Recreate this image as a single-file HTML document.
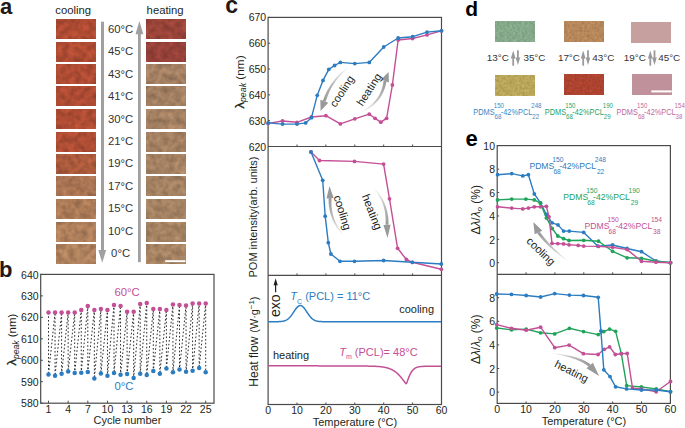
<!DOCTYPE html>
<html><head><meta charset="utf-8"><style>
html,body{margin:0;padding:0;background:#fff;width:685px;height:428px;overflow:hidden}
svg{display:block}
text{font-family:"Liberation Sans",sans-serif}
</style></head><body>
<svg width="685" height="428" viewBox="0 0 685 428">
<defs><filter id="tex" x="0" y="0" width="1" height="1" color-interpolation-filters="sRGB"><feTurbulence type="fractalNoise" baseFrequency="0.16" numOctaves="2" seed="7" result="n"/><feColorMatrix in="n" type="matrix" values="1 0 0 0 0  1 0 0 0 0  1 0 0 0 0  0 0 0 0 1" result="g"/><feComposite in="SourceGraphic" in2="g" operator="arithmetic" k1="0.45" k2="0.78" k3="0" k4="0"/></filter><linearGradient id="ga1" gradientUnits="userSpaceOnUse" x1="349.3" y1="67" x2="324.3" y2="101.3"><stop offset="0" stop-color="#fafafa"/><stop offset="0.55" stop-color="#bbb"/><stop offset="1" stop-color="#999"/></linearGradient><linearGradient id="ga2" gradientUnits="userSpaceOnUse" x1="359.8" y1="112.5" x2="385" y2="81"><stop offset="0" stop-color="#fafafa"/><stop offset="0.55" stop-color="#bbb"/><stop offset="1" stop-color="#999"/></linearGradient><linearGradient id="ga3" gradientUnits="userSpaceOnUse" x1="344.5" y1="236" x2="330.1" y2="198.2"><stop offset="0" stop-color="#fafafa"/><stop offset="0.55" stop-color="#bbb"/><stop offset="1" stop-color="#999"/></linearGradient><linearGradient id="ga4" gradientUnits="userSpaceOnUse" x1="373.2" y1="187.7" x2="387" y2="224.8"><stop offset="0" stop-color="#fafafa"/><stop offset="0.55" stop-color="#bbb"/><stop offset="1" stop-color="#999"/></linearGradient><filter id="tex2" x="0" y="0" width="1" height="1" color-interpolation-filters="sRGB"><feTurbulence type="fractalNoise" baseFrequency="0.4" numOctaves="2" seed="3" result="n"/><feColorMatrix in="n" type="matrix" values="1 0 0 0 0  1 0 0 0 0  1 0 0 0 0  0 0 0 0 1" result="g"/><feComposite in="SourceGraphic" in2="g" operator="arithmetic" k1="0.3" k2="0.85" k3="0" k4="0"/></filter><linearGradient id="ga5" gradientUnits="userSpaceOnUse" x1="568.4" y1="261.2" x2="538.5" y2="232.5"><stop offset="0" stop-color="#fafafa"/><stop offset="0.55" stop-color="#bbb"/><stop offset="1" stop-color="#999"/></linearGradient><linearGradient id="ga6" gradientUnits="userSpaceOnUse" x1="551.3" y1="353.4" x2="589.7" y2="365.5"><stop offset="0" stop-color="#fafafa"/><stop offset="0.55" stop-color="#bbb"/><stop offset="1" stop-color="#999"/></linearGradient></defs>
<text x="-0.1" y="13.8" font-size="22" text-anchor="start" fill="#231815" font-weight="bold">a</text>
<text x="55.3" y="14" font-size="11.3" text-anchor="start" fill="#231f20" >cooling</text>
<text x="146.6" y="14" font-size="11.3" text-anchor="start" fill="#231f20" >heating</text>
<rect x="56" y="19" width="40" height="20" fill="#ad4a32" filter="url(#tex)"/>
<rect x="146" y="19" width="40" height="20" fill="#984338" filter="url(#tex)"/>
<rect x="56" y="42" width="40" height="20" fill="#ad4b32" filter="url(#tex)"/>
<rect x="146" y="42" width="40" height="20" fill="#944039" filter="url(#tex)"/>
<rect x="56" y="64" width="40" height="20" fill="#ad4b33" filter="url(#tex)"/>
<rect x="146" y="64" width="40" height="20" fill="#a17e61" filter="url(#tex)"/>
<rect x="56" y="86" width="40" height="20" fill="#ad4b33" filter="url(#tex)"/>
<rect x="146" y="86" width="40" height="20" fill="#a17e61" filter="url(#tex)"/>
<rect x="56" y="109" width="40" height="20" fill="#ad4c33" filter="url(#tex)"/>
<rect x="146" y="109" width="40" height="20" fill="#a27f61" filter="url(#tex)"/>
<rect x="56" y="132" width="40" height="20" fill="#ad4d34" filter="url(#tex)"/>
<rect x="146" y="132" width="40" height="20" fill="#a27f61" filter="url(#tex)"/>
<rect x="56" y="154" width="40" height="20" fill="#ab5a3c" filter="url(#tex)"/>
<rect x="146" y="154" width="40" height="20" fill="#a38061" filter="url(#tex)"/>
<rect x="56" y="176" width="40" height="20" fill="#a87352" filter="url(#tex)"/>
<rect x="146" y="176" width="40" height="20" fill="#a38162" filter="url(#tex)"/>
<rect x="56" y="199" width="40" height="20" fill="#aa7956" filter="url(#tex)"/>
<rect x="146" y="199" width="40" height="20" fill="#a38162" filter="url(#tex)"/>
<rect x="56" y="222" width="40" height="20" fill="#ac7d5a" filter="url(#tex)"/>
<rect x="146" y="222" width="40" height="20" fill="#a48262" filter="url(#tex)"/>
<rect x="56" y="244" width="40" height="20" fill="#ae815d" filter="url(#tex)"/>
<rect x="146" y="244" width="40" height="20" fill="#a58262" filter="url(#tex)"/>
<text x="120.6" y="33" font-size="11.3" text-anchor="middle" fill="#333" >60°C</text>
<text x="120.6" y="55.4" font-size="11.3" text-anchor="middle" fill="#333" >45°C</text>
<text x="120.6" y="77.8" font-size="11.3" text-anchor="middle" fill="#333" >43°C</text>
<text x="120.6" y="100.2" font-size="11.3" text-anchor="middle" fill="#333" >41°C</text>
<text x="120.6" y="122.6" font-size="11.3" text-anchor="middle" fill="#333" >30°C</text>
<text x="120.6" y="145" font-size="11.3" text-anchor="middle" fill="#333" >21°C</text>
<text x="120.6" y="167.4" font-size="11.3" text-anchor="middle" fill="#333" >19°C</text>
<text x="120.6" y="189.8" font-size="11.3" text-anchor="middle" fill="#333" >17°C</text>
<text x="120.6" y="212.2" font-size="11.3" text-anchor="middle" fill="#333" >15°C</text>
<text x="120.6" y="234.6" font-size="11.3" text-anchor="middle" fill="#333" >10°C</text>
<text x="120.6" y="257" font-size="11.3" text-anchor="middle" fill="#333" >0°C</text>
<rect x="101" y="21.7" width="3" height="229" fill="#a0a0a0"/>
<polygon points="98.3,250 106.2,250 102.2,262.8" fill="#a0a0a0"/>
<rect x="138" y="33" width="2.8" height="229.2" fill="#a0a0a0"/>
<polygon points="135.5,34.3 143.3,34.3 139.4,21" fill="#a0a0a0"/>
<rect x="165.2" y="260.2" width="20.2" height="1.9" fill="#fff"/>
<text x="-1" y="277.4" font-size="22" text-anchor="start" fill="#231815" font-weight="bold">b</text>
<rect x="40.7" y="274.4" width="173.3" height="128.8" fill="none" stroke="#4a4a4a" stroke-width="1.2"/>
<line x1="40.7" y1="403.2" x2="42.900000000000006" y2="403.2" stroke="#4a4a4a" stroke-width="1"/>
<text x="38.6" y="407.3" font-size="10.5" text-anchor="end" fill="#231f20" >580</text>
<line x1="40.7" y1="381.73" x2="42.900000000000006" y2="381.73" stroke="#4a4a4a" stroke-width="1"/>
<text x="38.6" y="385.83" font-size="10.5" text-anchor="end" fill="#231f20" >590</text>
<line x1="40.7" y1="360.27" x2="42.900000000000006" y2="360.27" stroke="#4a4a4a" stroke-width="1"/>
<text x="38.6" y="364.37" font-size="10.5" text-anchor="end" fill="#231f20" >600</text>
<line x1="40.7" y1="338.8" x2="42.900000000000006" y2="338.8" stroke="#4a4a4a" stroke-width="1"/>
<text x="38.6" y="342.9" font-size="10.5" text-anchor="end" fill="#231f20" >610</text>
<line x1="40.7" y1="317.33" x2="42.900000000000006" y2="317.33" stroke="#4a4a4a" stroke-width="1"/>
<text x="38.6" y="321.43" font-size="10.5" text-anchor="end" fill="#231f20" >620</text>
<line x1="40.7" y1="295.87" x2="42.900000000000006" y2="295.87" stroke="#4a4a4a" stroke-width="1"/>
<text x="38.6" y="299.97" font-size="10.5" text-anchor="end" fill="#231f20" >630</text>
<line x1="40.7" y1="274.4" x2="42.900000000000006" y2="274.4" stroke="#4a4a4a" stroke-width="1"/>
<text x="38.6" y="278.5" font-size="10.5" text-anchor="end" fill="#231f20" >640</text>
<line x1="48.5" y1="403.2" x2="48.5" y2="400.7" stroke="#4a4a4a" stroke-width="1"/>
<text x="48.5" y="412.6" font-size="10.5" text-anchor="middle" fill="#231f20" >1</text>
<line x1="68.15" y1="403.2" x2="68.15" y2="400.7" stroke="#4a4a4a" stroke-width="1"/>
<text x="68.15" y="412.6" font-size="10.5" text-anchor="middle" fill="#231f20" >4</text>
<line x1="87.8" y1="403.2" x2="87.8" y2="400.7" stroke="#4a4a4a" stroke-width="1"/>
<text x="87.8" y="412.6" font-size="10.5" text-anchor="middle" fill="#231f20" >7</text>
<line x1="107.45" y1="403.2" x2="107.45" y2="400.7" stroke="#4a4a4a" stroke-width="1"/>
<text x="107.45" y="412.6" font-size="10.5" text-anchor="middle" fill="#231f20" >10</text>
<line x1="127.1" y1="403.2" x2="127.1" y2="400.7" stroke="#4a4a4a" stroke-width="1"/>
<text x="127.1" y="412.6" font-size="10.5" text-anchor="middle" fill="#231f20" >13</text>
<line x1="146.75" y1="403.2" x2="146.75" y2="400.7" stroke="#4a4a4a" stroke-width="1"/>
<text x="146.75" y="412.6" font-size="10.5" text-anchor="middle" fill="#231f20" >16</text>
<line x1="166.4" y1="403.2" x2="166.4" y2="400.7" stroke="#4a4a4a" stroke-width="1"/>
<text x="166.4" y="412.6" font-size="10.5" text-anchor="middle" fill="#231f20" >19</text>
<line x1="186.05" y1="403.2" x2="186.05" y2="400.7" stroke="#4a4a4a" stroke-width="1"/>
<text x="186.05" y="412.6" font-size="10.5" text-anchor="middle" fill="#231f20" >22</text>
<line x1="205.7" y1="403.2" x2="205.7" y2="400.7" stroke="#4a4a4a" stroke-width="1"/>
<text x="205.7" y="412.6" font-size="10.5" text-anchor="middle" fill="#231f20" >25</text>
<text x="127.4" y="423.8" font-size="11" text-anchor="middle" fill="#231f20" >Cycle number</text>
<text transform="translate(12.4,339.6) rotate(-90)" font-size="11.5" text-anchor="middle" dy="0.35em" fill="#231f20" ><tspan font-size="13" stroke="#231f20" stroke-width="0.3">λ</tspan><tspan font-size="8.6" font-style="italic" dy="2.2">peak</tspan><tspan dy="-2.2"> (nm)</tspan></text>
<polyline points="48.5,312.6 48.5,374.6 55.05,312.6 55.05,375.7 61.6,312.6 61.6,373.8 68.15,312.6 68.15,371.5 74.7,312.6 74.7,373 81.25,310.1 81.25,372.7 87.8,305.9 87.8,371.9 94.35,309.9 94.35,378.4 100.9,309 100.9,373.6 107.45,309.9 107.45,375.7 114,305 114,373 120.55,306 120.55,374.8 127.1,311.8 127.1,373.9 133.65,311.8 133.65,378 140.2,304 140.2,373.8 146.75,303 146.75,374.9 153.3,309.1 153.3,371.1 159.85,309.1 159.85,373.8 166.4,310.1 166.4,368.6 172.95,304.5 172.95,372.3 179.5,305.1 179.5,369.6 186.05,305.5 186.05,371.7 192.6,303.4 192.6,370.7 199.15,303.4 199.15,367.9 205.7,303.4 205.7,372.3" fill="none" stroke="#2a2a2a" stroke-width="1.0" stroke-linejoin="round" stroke-dasharray="1.6,2.1"/>
<circle cx="48.5" cy="312.6" r="2.25" fill="#c34f96"/>
<circle cx="55.05" cy="312.6" r="2.25" fill="#c34f96"/>
<circle cx="61.6" cy="312.6" r="2.25" fill="#c34f96"/>
<circle cx="68.15" cy="312.6" r="2.25" fill="#c34f96"/>
<circle cx="74.7" cy="312.6" r="2.25" fill="#c34f96"/>
<circle cx="81.25" cy="310.1" r="2.25" fill="#c34f96"/>
<circle cx="87.8" cy="305.9" r="2.25" fill="#c34f96"/>
<circle cx="94.35" cy="309.9" r="2.25" fill="#c34f96"/>
<circle cx="100.9" cy="309" r="2.25" fill="#c34f96"/>
<circle cx="107.45" cy="309.9" r="2.25" fill="#c34f96"/>
<circle cx="114" cy="305" r="2.25" fill="#c34f96"/>
<circle cx="120.55" cy="306" r="2.25" fill="#c34f96"/>
<circle cx="127.1" cy="311.8" r="2.25" fill="#c34f96"/>
<circle cx="133.65" cy="311.8" r="2.25" fill="#c34f96"/>
<circle cx="140.2" cy="304" r="2.25" fill="#c34f96"/>
<circle cx="146.75" cy="303" r="2.25" fill="#c34f96"/>
<circle cx="153.3" cy="309.1" r="2.25" fill="#c34f96"/>
<circle cx="159.85" cy="309.1" r="2.25" fill="#c34f96"/>
<circle cx="166.4" cy="310.1" r="2.25" fill="#c34f96"/>
<circle cx="172.95" cy="304.5" r="2.25" fill="#c34f96"/>
<circle cx="179.5" cy="305.1" r="2.25" fill="#c34f96"/>
<circle cx="186.05" cy="305.5" r="2.25" fill="#c34f96"/>
<circle cx="192.6" cy="303.4" r="2.25" fill="#c34f96"/>
<circle cx="199.15" cy="303.4" r="2.25" fill="#c34f96"/>
<circle cx="205.7" cy="303.4" r="2.25" fill="#c34f96"/>
<circle cx="48.5" cy="374.6" r="2.25" fill="#2b7cc0"/>
<circle cx="55.05" cy="375.7" r="2.25" fill="#2b7cc0"/>
<circle cx="61.6" cy="373.8" r="2.25" fill="#2b7cc0"/>
<circle cx="68.15" cy="371.5" r="2.25" fill="#2b7cc0"/>
<circle cx="74.7" cy="373" r="2.25" fill="#2b7cc0"/>
<circle cx="81.25" cy="372.7" r="2.25" fill="#2b7cc0"/>
<circle cx="87.8" cy="371.9" r="2.25" fill="#2b7cc0"/>
<circle cx="94.35" cy="378.4" r="2.25" fill="#2b7cc0"/>
<circle cx="100.9" cy="373.6" r="2.25" fill="#2b7cc0"/>
<circle cx="107.45" cy="375.7" r="2.25" fill="#2b7cc0"/>
<circle cx="114" cy="373" r="2.25" fill="#2b7cc0"/>
<circle cx="120.55" cy="374.8" r="2.25" fill="#2b7cc0"/>
<circle cx="127.1" cy="373.9" r="2.25" fill="#2b7cc0"/>
<circle cx="133.65" cy="378" r="2.25" fill="#2b7cc0"/>
<circle cx="140.2" cy="373.8" r="2.25" fill="#2b7cc0"/>
<circle cx="146.75" cy="374.9" r="2.25" fill="#2b7cc0"/>
<circle cx="153.3" cy="371.1" r="2.25" fill="#2b7cc0"/>
<circle cx="159.85" cy="373.8" r="2.25" fill="#2b7cc0"/>
<circle cx="166.4" cy="368.6" r="2.25" fill="#2b7cc0"/>
<circle cx="172.95" cy="372.3" r="2.25" fill="#2b7cc0"/>
<circle cx="179.5" cy="369.6" r="2.25" fill="#2b7cc0"/>
<circle cx="186.05" cy="371.7" r="2.25" fill="#2b7cc0"/>
<circle cx="192.6" cy="370.7" r="2.25" fill="#2b7cc0"/>
<circle cx="199.15" cy="367.9" r="2.25" fill="#2b7cc0"/>
<circle cx="205.7" cy="372.3" r="2.25" fill="#2b7cc0"/>
<text x="127" y="295.6" font-size="11.3" text-anchor="middle" fill="#c34f96" >60°C</text>
<text x="124" y="390.3" font-size="11.3" text-anchor="middle" fill="#2b7cc0" >0°C</text>
<text x="225.2" y="12.6" font-size="23" text-anchor="start" fill="#231815" font-weight="bold">c</text>
<rect x="268.1" y="17.4" width="173.39999999999998" height="387.1" fill="none" stroke="#4a4a4a" stroke-width="1.2"/>
<line x1="268.1" y1="146.5" x2="441.5" y2="146.5" stroke="#4a4a4a" stroke-width="1.2"/>
<line x1="268.1" y1="275.4" x2="441.5" y2="275.4" stroke="#4a4a4a" stroke-width="1.2"/>
<line x1="268.1" y1="146.5" x2="270.1" y2="146.5" stroke="#4a4a4a" stroke-width="1"/>
<text x="266.2" y="150.5" font-size="10.5" text-anchor="end" fill="#231f20" >620</text>
<line x1="268.1" y1="120.68" x2="270.1" y2="120.68" stroke="#4a4a4a" stroke-width="1"/>
<text x="266.2" y="124.68" font-size="10.5" text-anchor="end" fill="#231f20" >630</text>
<line x1="268.1" y1="94.86" x2="270.1" y2="94.86" stroke="#4a4a4a" stroke-width="1"/>
<text x="266.2" y="98.86" font-size="10.5" text-anchor="end" fill="#231f20" >640</text>
<line x1="268.1" y1="69.04" x2="270.1" y2="69.04" stroke="#4a4a4a" stroke-width="1"/>
<text x="266.2" y="73.04" font-size="10.5" text-anchor="end" fill="#231f20" >650</text>
<line x1="268.1" y1="43.22" x2="270.1" y2="43.22" stroke="#4a4a4a" stroke-width="1"/>
<text x="266.2" y="47.22" font-size="10.5" text-anchor="end" fill="#231f20" >660</text>
<line x1="268.1" y1="17.4" x2="270.1" y2="17.4" stroke="#4a4a4a" stroke-width="1"/>
<text x="266.2" y="21.4" font-size="10.5" text-anchor="end" fill="#231f20" >670</text>
<line x1="297" y1="146.5" x2="297" y2="144.5" stroke="#4a4a4a" stroke-width="1"/>
<line x1="297" y1="275.4" x2="297" y2="273.4" stroke="#4a4a4a" stroke-width="1"/>
<line x1="297" y1="404.5" x2="297" y2="402.5" stroke="#4a4a4a" stroke-width="1"/>
<line x1="325.9" y1="146.5" x2="325.9" y2="144.5" stroke="#4a4a4a" stroke-width="1"/>
<line x1="325.9" y1="275.4" x2="325.9" y2="273.4" stroke="#4a4a4a" stroke-width="1"/>
<line x1="325.9" y1="404.5" x2="325.9" y2="402.5" stroke="#4a4a4a" stroke-width="1"/>
<line x1="354.8" y1="146.5" x2="354.8" y2="144.5" stroke="#4a4a4a" stroke-width="1"/>
<line x1="354.8" y1="275.4" x2="354.8" y2="273.4" stroke="#4a4a4a" stroke-width="1"/>
<line x1="354.8" y1="404.5" x2="354.8" y2="402.5" stroke="#4a4a4a" stroke-width="1"/>
<line x1="383.7" y1="146.5" x2="383.7" y2="144.5" stroke="#4a4a4a" stroke-width="1"/>
<line x1="383.7" y1="275.4" x2="383.7" y2="273.4" stroke="#4a4a4a" stroke-width="1"/>
<line x1="383.7" y1="404.5" x2="383.7" y2="402.5" stroke="#4a4a4a" stroke-width="1"/>
<line x1="412.6" y1="146.5" x2="412.6" y2="144.5" stroke="#4a4a4a" stroke-width="1"/>
<line x1="412.6" y1="275.4" x2="412.6" y2="273.4" stroke="#4a4a4a" stroke-width="1"/>
<line x1="412.6" y1="404.5" x2="412.6" y2="402.5" stroke="#4a4a4a" stroke-width="1"/>
<text x="268.1" y="413.6" font-size="10.5" text-anchor="middle" fill="#231f20" >0</text>
<text x="297" y="413.6" font-size="10.5" text-anchor="middle" fill="#231f20" >10</text>
<text x="325.9" y="413.6" font-size="10.5" text-anchor="middle" fill="#231f20" >20</text>
<text x="354.8" y="413.6" font-size="10.5" text-anchor="middle" fill="#231f20" >30</text>
<text x="383.7" y="413.6" font-size="10.5" text-anchor="middle" fill="#231f20" >40</text>
<text x="412.6" y="413.6" font-size="10.5" text-anchor="middle" fill="#231f20" >50</text>
<text x="441.5" y="413.6" font-size="10.5" text-anchor="middle" fill="#231f20" >60</text>
<text x="355" y="425.6" font-size="11" text-anchor="middle" fill="#231f20" >Temperature (°C)</text>
<polyline points="268.1,123.4 282.55,121 297,122.3 311.45,117 325.9,115.7 340.35,123.9 354.8,118.8 369.25,114.2 375.03,118.3 380.81,122.2 386.59,118.3 392.37,85 398.15,40 412.6,38.5 427.05,34.9 441.5,30.8" fill="none" stroke="#c34f96" stroke-width="1.4" stroke-linejoin="round"/>
<circle cx="268.1" cy="123.4" r="1.9" fill="#c34f96"/>
<circle cx="282.55" cy="121" r="1.9" fill="#c34f96"/>
<circle cx="297" cy="122.3" r="1.9" fill="#c34f96"/>
<circle cx="311.45" cy="117" r="1.9" fill="#c34f96"/>
<circle cx="325.9" cy="115.7" r="1.9" fill="#c34f96"/>
<circle cx="340.35" cy="123.9" r="1.9" fill="#c34f96"/>
<circle cx="354.8" cy="118.8" r="1.9" fill="#c34f96"/>
<circle cx="369.25" cy="114.2" r="1.9" fill="#c34f96"/>
<circle cx="375.03" cy="118.3" r="1.9" fill="#c34f96"/>
<circle cx="380.81" cy="122.2" r="1.9" fill="#c34f96"/>
<circle cx="386.59" cy="118.3" r="1.9" fill="#c34f96"/>
<circle cx="392.37" cy="85" r="1.9" fill="#c34f96"/>
<circle cx="398.15" cy="40" r="1.9" fill="#c34f96"/>
<circle cx="412.6" cy="38.5" r="1.9" fill="#c34f96"/>
<circle cx="427.05" cy="34.9" r="1.9" fill="#c34f96"/>
<circle cx="441.5" cy="30.8" r="1.9" fill="#c34f96"/>
<polyline points="268.1,122.9 282.55,124.1 297,124.1 305.67,122.9 311.45,117.7 317.23,95.3 323.01,80.4 328.79,69.4 334.57,65.5 340.35,62.4 354.8,63.6 369.25,62.4 383.7,47 398.15,38 412.6,36.7 427.05,32.1 441.5,30.8" fill="none" stroke="#2b7cc0" stroke-width="1.4" stroke-linejoin="round"/>
<circle cx="268.1" cy="122.9" r="1.9" fill="#2b7cc0"/>
<circle cx="282.55" cy="124.1" r="1.9" fill="#2b7cc0"/>
<circle cx="297" cy="124.1" r="1.9" fill="#2b7cc0"/>
<circle cx="305.67" cy="122.9" r="1.9" fill="#2b7cc0"/>
<circle cx="311.45" cy="117.7" r="1.9" fill="#2b7cc0"/>
<circle cx="317.23" cy="95.3" r="1.9" fill="#2b7cc0"/>
<circle cx="323.01" cy="80.4" r="1.9" fill="#2b7cc0"/>
<circle cx="328.79" cy="69.4" r="1.9" fill="#2b7cc0"/>
<circle cx="334.57" cy="65.5" r="1.9" fill="#2b7cc0"/>
<circle cx="340.35" cy="62.4" r="1.9" fill="#2b7cc0"/>
<circle cx="354.8" cy="63.6" r="1.9" fill="#2b7cc0"/>
<circle cx="369.25" cy="62.4" r="1.9" fill="#2b7cc0"/>
<circle cx="383.7" cy="47" r="1.9" fill="#2b7cc0"/>
<circle cx="398.15" cy="38" r="1.9" fill="#2b7cc0"/>
<circle cx="412.6" cy="36.7" r="1.9" fill="#2b7cc0"/>
<circle cx="427.05" cy="32.1" r="1.9" fill="#2b7cc0"/>
<circle cx="441.5" cy="30.8" r="1.9" fill="#2b7cc0"/>
<text transform="translate(240,82) rotate(-90)" font-size="11.8" text-anchor="middle" dy="0.35em" fill="#231f20" ><tspan font-size="13" stroke="#231f20" stroke-width="0.3">λ</tspan><tspan font-size="8.8" font-style="italic" dy="2.2">peak</tspan><tspan dy="-2.2"> (nm)</tspan></text>
<polyline points="311,152 319.5,160.5 354.5,161.4 383.6,164.1 389.5,198.8 397.6,248.3 406.4,259.5 412.3,262.3 441.3,269.3" fill="none" stroke="#c34f96" stroke-width="1.4" stroke-linejoin="round"/>
<circle cx="311" cy="152" r="1.9" fill="#c34f96"/>
<circle cx="319.5" cy="160.5" r="1.9" fill="#c34f96"/>
<circle cx="354.5" cy="161.4" r="1.9" fill="#c34f96"/>
<circle cx="383.6" cy="164.1" r="1.9" fill="#c34f96"/>
<circle cx="389.5" cy="198.8" r="1.9" fill="#c34f96"/>
<circle cx="397.6" cy="248.3" r="1.9" fill="#c34f96"/>
<circle cx="406.4" cy="259.5" r="1.9" fill="#c34f96"/>
<circle cx="412.3" cy="262.3" r="1.9" fill="#c34f96"/>
<circle cx="441.3" cy="269.3" r="1.9" fill="#c34f96"/>
<polyline points="311,152 322.7,180.3 325.2,216.2 328.3,242.7 330.9,254 340,261.3 354.5,261.3 383.6,260.5 412.3,262.3 441.3,264" fill="none" stroke="#2b7cc0" stroke-width="1.4" stroke-linejoin="round"/>
<circle cx="311" cy="152" r="1.9" fill="#2b7cc0"/>
<circle cx="322.7" cy="180.3" r="1.9" fill="#2b7cc0"/>
<circle cx="325.2" cy="216.2" r="1.9" fill="#2b7cc0"/>
<circle cx="328.3" cy="242.7" r="1.9" fill="#2b7cc0"/>
<circle cx="330.9" cy="254" r="1.9" fill="#2b7cc0"/>
<circle cx="340" cy="261.3" r="1.9" fill="#2b7cc0"/>
<circle cx="354.5" cy="261.3" r="1.9" fill="#2b7cc0"/>
<circle cx="383.6" cy="260.5" r="1.9" fill="#2b7cc0"/>
<circle cx="412.3" cy="262.3" r="1.9" fill="#2b7cc0"/>
<circle cx="441.3" cy="264" r="1.9" fill="#2b7cc0"/>
<text transform="translate(253.6,217) rotate(-90)" font-size="11" text-anchor="middle" dy="0.35em" fill="#231f20" >POM intensity(arb. units)</text>
<polyline points="268.1,321.7 268.6,321.7 269.1,321.7 269.6,321.7 270.1,321.7 270.6,321.7 271.1,321.7 271.6,321.7 272.1,321.7 272.6,321.7 273.1,321.7 273.6,321.7 274.1,321.7 274.6,321.69 275.1,321.69 275.6,321.69 276.1,321.68 276.6,321.68 277.1,321.67 277.6,321.66 278.1,321.65 278.6,321.64 279.1,321.62 279.6,321.6 280.1,321.57 280.6,321.54 281.1,321.49 281.6,321.44 282.1,321.38 282.6,321.3 283.1,321.21 283.6,321.1 284.1,320.97 284.6,320.82 285.1,320.65 285.6,320.44 286.1,320.21 286.6,319.94 287.1,319.64 287.6,319.3 288.1,318.92 288.6,318.49 289.1,318.03 289.6,317.52 290.1,316.97 290.6,316.38 291.1,315.75 291.6,315.09 292.1,314.39 292.6,313.67 293.1,312.93 293.6,312.18 294.1,311.42 294.6,310.67 295.1,309.94 295.6,309.23 296.1,308.55 296.6,307.92 297.1,307.35 297.6,306.84 298.1,306.4 298.6,306.04 299.1,305.77 299.6,305.59 300.1,305.51 300.6,305.52 301.1,305.62 301.6,305.82 302.1,306.11 302.6,306.48 303.1,306.94 303.6,307.46 304.1,308.04 304.6,308.68 305.1,309.37 305.6,310.08 306.1,310.82 306.6,311.57 307.1,312.33 307.6,313.08 308.1,313.81 308.6,314.53 309.1,315.22 309.6,315.88 310.1,316.5 310.6,317.08 311.1,317.63 311.6,318.13 312.1,318.58 312.6,319 313.1,319.37 313.6,319.7 314.1,320 314.6,320.26 315.1,320.49 315.6,320.69 316.1,320.86 316.6,321 317.1,321.13 317.6,321.23 318.1,321.32 318.6,321.39 319.1,321.45 319.6,321.5 320.1,321.54 320.6,321.58 321.1,321.6 321.6,321.62 322.1,321.64 322.6,321.65 323.1,321.67 323.6,321.67 324.1,321.68 324.6,321.69 325.1,321.69 325.6,321.69 326.1,321.69 326.6,321.7 327.1,321.7 327.6,321.7 328.1,321.7 328.6,321.7 329.1,321.7 329.6,321.7 330.1,321.7 330.6,321.7 331.1,321.7 331.6,321.7 332.1,321.7 332.6,321.7 333.1,321.7 333.6,321.7 334.1,321.7 334.6,321.7 335.1,321.7 335.6,321.7 336.1,321.7 336.6,321.7 337.1,321.7 337.6,321.7 338.1,321.7 338.6,321.7 339.1,321.7 339.6,321.7 340.1,321.7 340.6,321.7 341.1,321.7 341.6,321.7 342.1,321.7 342.6,321.7 343.1,321.7 343.6,321.7 344.1,321.7 344.6,321.7 345.1,321.7 345.6,321.7 346.1,321.7 346.6,321.7 347.1,321.7 347.6,321.7 348.1,321.7 348.6,321.7 349.1,321.7 349.6,321.7 350.1,321.7 350.6,321.7 351.1,321.7 351.6,321.7 352.1,321.7 352.6,321.7 353.1,321.7 353.6,321.7 354.1,321.7 354.6,321.7 355.1,321.7 355.6,321.7 356.1,321.7 356.6,321.7 357.1,321.7 357.6,321.7 358.1,321.7 358.6,321.7 359.1,321.7 359.6,321.7 360.1,321.7 360.6,321.7 361.1,321.7 361.6,321.7 362.1,321.7 362.6,321.7 363.1,321.7 363.6,321.7 364.1,321.7 364.6,321.7 365.1,321.7 365.6,321.7 366.1,321.7 366.6,321.7 367.1,321.7 367.6,321.7 368.1,321.7 368.6,321.7 369.1,321.7 369.6,321.7 370.1,321.7 370.6,321.7 371.1,321.7 371.6,321.7 372.1,321.7 372.6,321.7 373.1,321.7 373.6,321.7 374.1,321.7 374.6,321.7 375.1,321.7 375.6,321.7 376.1,321.7 376.6,321.7 377.1,321.7 377.6,321.7 378.1,321.7 378.6,321.7 379.1,321.7 379.6,321.7 380.1,321.7 380.6,321.7 381.1,321.7 381.6,321.7 382.1,321.7 382.6,321.7 383.1,321.7 383.6,321.7 384.1,321.7 384.6,321.7 385.1,321.7 385.6,321.7 386.1,321.7 386.6,321.7 387.1,321.7 387.6,321.7 388.1,321.7 388.6,321.7 389.1,321.7 389.6,321.7 390.1,321.7 390.6,321.7 391.1,321.7 391.6,321.7 392.1,321.7 392.6,321.7 393.1,321.7 393.6,321.7 394.1,321.7 394.6,321.7 395.1,321.7 395.6,321.7 396.1,321.7 396.6,321.7 397.1,321.7 397.6,321.7 398.1,321.7 398.6,321.7 399.1,321.7 399.6,321.7 400.1,321.7 400.6,321.7 401.1,321.7 401.6,321.7 402.1,321.7 402.6,321.7 403.1,321.7 403.6,321.7 404.1,321.7 404.6,321.7 405.1,321.7 405.6,321.7 406.1,321.7 406.6,321.7 407.1,321.7 407.6,321.7 408.1,321.7 408.6,321.7 409.1,321.7 409.6,321.7 410.1,321.7 410.6,321.7 411.1,321.7 411.6,321.7 412.1,321.7 412.6,321.7 413.1,321.7 413.6,321.7 414.1,321.7 414.6,321.7 415.1,321.7 415.6,321.7 416.1,321.7 416.6,321.7 417.1,321.7 417.6,321.7 418.1,321.7 418.6,321.7 419.1,321.7 419.6,321.7 420.1,321.7 420.6,321.7 421.1,321.7 421.6,321.7 422.1,321.7 422.6,321.7 423.1,321.7 423.6,321.7 424.1,321.7 424.6,321.7 425.1,321.7 425.6,321.7 426.1,321.7 426.6,321.7 427.1,321.7 427.6,321.7 428.1,321.7 428.6,321.7 429.1,321.7 429.6,321.7 430.1,321.7 430.6,321.7 431.1,321.7 431.6,321.7 432.1,321.7 432.6,321.7 433.1,321.7 433.6,321.7 434.1,321.7 434.6,321.7 435.1,321.7 435.6,321.7 436.1,321.7 436.6,321.7 437.1,321.7 437.6,321.7 438.1,321.7 438.6,321.7 439.1,321.7 439.6,321.7 440.1,321.7 440.6,321.7 441.1,321.7" fill="none" stroke="#2b7cc0" stroke-width="1.5" stroke-linejoin="round"/>
<polyline points="268.1,365.7 268.6,365.7 269.1,365.7 269.6,365.71 270.1,365.71 270.6,365.71 271.1,365.71 271.6,365.71 272.1,365.71 272.6,365.72 273.1,365.72 273.6,365.72 274.1,365.72 274.6,365.72 275.1,365.72 275.6,365.73 276.1,365.73 276.6,365.73 277.1,365.73 277.6,365.73 278.1,365.74 278.6,365.74 279.1,365.74 279.6,365.74 280.1,365.74 280.6,365.74 281.1,365.75 281.6,365.75 282.1,365.75 282.6,365.75 283.1,365.75 283.6,365.75 284.1,365.76 284.6,365.76 285.1,365.76 285.6,365.76 286.1,365.76 286.6,365.76 287.1,365.77 287.6,365.77 288.1,365.77 288.6,365.77 289.1,365.77 289.6,365.77 290.1,365.78 290.6,365.78 291.1,365.78 291.6,365.78 292.1,365.78 292.6,365.79 293.1,365.79 293.6,365.79 294.1,365.79 294.6,365.79 295.1,365.79 295.6,365.8 296.1,365.8 296.6,365.8 297.1,365.8 297.6,365.8 298.1,365.8 298.6,365.81 299.1,365.81 299.6,365.81 300.1,365.81 300.6,365.81 301.1,365.81 301.6,365.82 302.1,365.82 302.6,365.82 303.1,365.82 303.6,365.82 304.1,365.83 304.6,365.83 305.1,365.83 305.6,365.83 306.1,365.83 306.6,365.83 307.1,365.84 307.6,365.84 308.1,365.84 308.6,365.84 309.1,365.84 309.6,365.84 310.1,365.85 310.6,365.85 311.1,365.85 311.6,365.85 312.1,365.85 312.6,365.85 313.1,365.86 313.6,365.86 314.1,365.86 314.6,365.86 315.1,365.86 315.6,365.87 316.1,365.87 316.6,365.87 317.1,365.87 317.6,365.87 318.1,365.87 318.6,365.88 319.1,365.88 319.6,365.88 320.1,365.88 320.6,365.88 321.1,365.88 321.6,365.89 322.1,365.89 322.6,365.89 323.1,365.89 323.6,365.89 324.1,365.89 324.6,365.9 325.1,365.9 325.6,365.9 326.1,365.9 326.6,365.9 327.1,365.9 327.6,365.91 328.1,365.91 328.6,365.91 329.1,365.91 329.6,365.91 330.1,365.92 330.6,365.92 331.1,365.92 331.6,365.92 332.1,365.92 332.6,365.92 333.1,365.93 333.6,365.93 334.1,365.93 334.6,365.93 335.1,365.93 335.6,365.93 336.1,365.94 336.6,365.94 337.1,365.94 337.6,365.94 338.1,365.94 338.6,365.95 339.1,365.95 339.6,365.95 340.1,365.95 340.6,365.95 341.1,365.95 341.6,365.96 342.1,365.96 342.6,365.96 343.1,365.96 343.6,365.96 344.1,365.96 344.6,365.97 345.1,365.97 345.6,365.97 346.1,365.97 346.6,365.97 347.1,365.98 347.6,365.98 348.1,365.98 348.6,365.98 349.1,365.98 349.6,365.99 350.1,365.99 350.6,365.99 351.1,365.99 351.6,365.99 352.1,366 352.6,366 353.1,366 353.6,366 354.1,366 354.6,366.01 355.1,366.01 355.6,366.01 356.1,366.01 356.6,366.02 357.1,366.02 357.6,366.02 358.1,366.02 358.6,366.03 359.1,366.03 359.6,366.03 360.1,366.04 360.6,366.04 361.1,366.04 361.6,366.05 362.1,366.05 362.6,366.05 363.1,366.06 363.6,366.06 364.1,366.07 364.6,366.07 365.1,366.08 365.6,366.08 366.1,366.09 366.6,366.1 367.1,366.1 367.6,366.11 368.1,366.12 368.6,366.13 369.1,366.14 369.6,366.15 370.1,366.16 370.6,366.17 371.1,366.18 371.6,366.2 372.1,366.21 372.6,366.23 373.1,366.24 373.6,366.26 374.1,366.28 374.6,366.3 375.1,366.32 375.6,366.35 376.1,366.37 376.6,366.4 377.1,366.43 377.6,366.46 378.1,366.5 378.6,366.54 379.1,366.58 379.6,366.62 380.1,366.67 380.6,366.72 381.1,366.78 381.6,366.84 382.1,366.9 382.6,366.97 383.1,367.04 383.6,367.12 384.1,367.21 384.6,367.3 385.1,367.4 385.6,367.51 386.1,367.62 386.6,367.74 387.1,367.87 387.6,368.01 388.1,368.16 388.6,368.32 389.1,368.49 389.6,368.67 390.1,368.86 390.6,369.07 391.1,369.29 391.6,369.52 392.1,369.77 392.6,370.04 393.1,370.32 393.6,370.61 394.1,370.93 394.6,371.26 395.1,371.61 395.6,371.98 396.1,372.38 396.6,372.79 397.1,373.22 397.6,373.67 398.1,374.15 398.6,374.65 399.1,375.17 399.6,375.71 400.1,376.27 400.6,376.85 401.1,377.45 401.6,378.07 402.1,378.7 402.6,379.34 403.1,380 403.6,380.66 404.1,381.32 404.6,381.96 405.1,382.59 405.6,383.16 406.1,383.65 406.6,383.21 407.1,381.93 407.6,380.55 408.1,379.17 408.6,377.84 409.1,376.59 409.6,375.43 410.1,374.36 410.6,373.38 411.1,372.5 411.6,371.71 412.1,371.01 412.6,370.38 413.1,369.83 413.6,369.34 414.1,368.91 414.6,368.53 415.1,368.21 415.6,367.92 416.1,367.68 416.6,367.46 417.1,367.28 417.6,367.12 418.1,366.99 418.6,366.87 419.1,366.78 419.6,366.69 420.1,366.62 420.6,366.56 421.1,366.51 421.6,366.47 422.1,366.43 422.6,366.4 423.1,366.38 423.6,366.35 424.1,366.34 424.6,366.32 425.1,366.31 425.6,366.3 426.1,366.29 426.6,366.29 427.1,366.28 427.6,366.28 428.1,366.28 428.6,366.27 429.1,366.27 429.6,366.27 430.1,366.27 430.6,366.27 431.1,366.27 431.6,366.27 432.1,366.27 432.6,366.27 433.1,366.28 433.6,366.28 434.1,366.28 434.6,366.28 435.1,366.28 435.6,366.28 436.1,366.28 436.6,366.29 437.1,366.29 437.6,366.29 438.1,366.29 438.6,366.29 439.1,366.29 439.6,366.3 440.1,366.3 440.6,366.3 441.1,366.3" fill="none" stroke="#c34f96" stroke-width="1.5" stroke-linejoin="round"/>
<text transform="translate(254.2,341.6) rotate(-90)" font-size="12" text-anchor="middle" dy="0.35em" fill="#231f20" >Heat flow<tspan font-size="10.8" dx="4">(W·g</tspan><tspan font-size="8" dy="-4.2">−1</tspan><tspan font-size="10.8" dy="4.2">)</tspan></text>
<text transform="translate(274.8,305.8) rotate(-90)" font-size="14" text-anchor="middle" dy="0.35em" fill="#231f20" >exo</text>
<line x1="275.6" y1="292.3" x2="275.6" y2="284" stroke="#231f20" stroke-width="1.2"/>
<polygon points="273.6,285.2 277.8,285.2 275.6,278.2" fill="#231f20"/>
<text x="290.3" y="300" font-size="11" fill="#2b7cc0"><tspan font-style="italic">T</tspan><tspan font-size="7" dy="3.6">C</tspan><tspan dy="-3.6"> (PCL) = 11°C</tspan></text>
<text x="399.2" y="313.4" font-size="11" text-anchor="start" fill="#231f20" >cooling</text>
<text x="273" y="358.6" font-size="11" text-anchor="start" fill="#231f20" >heating</text>
<text x="339.2" y="356" font-size="11" fill="#c34f96"><tspan font-style="italic">T</tspan><tspan font-size="7" dy="2.7">m</tspan><tspan dy="-2.7"> (PCL)= 48°C</tspan></text>
<polygon points="349.24,66.92 347.96,67.69 346.72,68.52 345.52,69.39 344.34,70.28 343.19,71.19 342.07,72.12 340.97,73.08 339.9,74.06 338.86,75.06 337.84,76.08 336.84,77.13 335.87,78.19 334.93,79.28 334.01,80.38 333.12,81.51 332.26,82.66 331.42,83.82 330.6,85.01 329.82,86.22 329.05,87.45 328.32,88.7 327.61,89.97 326.92,91.26 326.26,92.57 325.63,93.9 325.03,95.25 324.45,96.62 323.9,98.01 323.37,99.42 322.87,100.85 325.73,101.75 326.15,100.36 326.59,98.98 327.06,97.63 327.56,96.28 328.08,94.96 328.62,93.65 329.19,92.36 329.79,91.09 330.41,89.83 331.06,88.59 331.73,87.37 332.43,86.16 333.15,84.97 333.9,83.8 334.68,82.64 335.48,81.5 336.31,80.37 337.16,79.27 338.04,78.17 338.94,77.09 339.87,76.03 340.83,74.99 341.81,73.96 342.82,72.94 343.85,71.94 344.91,70.95 345.99,69.98 347.1,69.02 348.23,68.06 349.36,67.08" fill="url(#ga1)"/>
<polygon points="320.32,99.8 328.28,102.8 320.6,111.1" fill="#999"/>
<polygon points="359.84,112.59 361.35,112.06 362.81,111.46 364.23,110.81 365.6,110.13 366.93,109.41 368.21,108.66 369.46,107.88 370.67,107.07 371.83,106.22 372.96,105.34 374.04,104.43 375.08,103.49 376.08,102.52 377.04,101.51 377.95,100.48 378.82,99.41 379.65,98.31 380.44,97.17 381.19,96.01 381.89,94.82 382.55,93.59 383.16,92.33 383.73,91.05 384.26,89.73 384.74,88.38 385.18,87 385.57,85.6 385.92,84.16 386.23,82.7 386.49,81.2 383.51,80.8 383.33,82.21 383.11,83.59 382.85,84.95 382.54,86.28 382.19,87.59 381.81,88.87 381.38,90.13 380.91,91.36 380.4,92.56 379.85,93.74 379.25,94.89 378.61,96.03 377.94,97.13 377.21,98.22 376.45,99.27 375.64,100.31 374.79,101.32 373.9,102.31 372.96,103.27 371.98,104.21 370.95,105.13 369.88,106.02 368.77,106.89 367.61,107.74 366.41,108.56 365.16,109.36 363.87,110.14 362.54,110.9 361.16,111.64 359.76,112.41" fill="url(#ga2)"/>
<polygon points="388.95,82.56 381.05,79.44 388.6,71.9" fill="#999"/>
<text transform="translate(341.9,91.2) rotate(-56.7)" font-size="11" text-anchor="middle" dy="0.35em" fill="#231f20" >cooling</text>
<text transform="translate(369,89.4) rotate(-57.4)" font-size="11" text-anchor="middle" dy="0.35em" fill="#231f20" >heating</text>
<polygon points="344.57,235.93 343.65,234.77 342.74,233.64 341.86,232.5 341.01,231.36 340.19,230.21 339.42,229.05 338.67,227.88 337.97,226.7 337.3,225.52 336.67,224.33 336.07,223.12 335.51,221.91 334.99,220.68 334.5,219.45 334.05,218.21 333.63,216.95 333.26,215.69 332.91,214.42 332.61,213.13 332.34,211.84 332.1,210.53 331.9,209.22 331.74,207.89 331.61,206.55 331.52,205.2 331.47,203.84 331.45,202.47 331.46,201.08 331.51,199.68 331.6,198.28 328.6,198.12 328.58,199.61 328.59,201.08 328.65,202.54 328.74,203.98 328.87,205.41 329.03,206.83 329.24,208.23 329.48,209.61 329.76,210.98 330.08,212.34 330.44,213.68 330.84,215.01 331.27,216.32 331.74,217.61 332.25,218.89 332.8,220.16 333.38,221.4 334,222.64 334.66,223.85 335.36,225.05 336.09,226.24 336.86,227.4 337.67,228.55 338.51,229.69 339.4,230.81 340.32,231.9 341.27,232.99 342.27,234.05 343.32,235.08 344.43,236.07" fill="url(#ga3)"/>
<polygon points="333.7,198.02 326.5,198.38 329.5,185.9" fill="#999"/>
<polygon points="373.13,187.77 374,188.88 374.87,189.97 375.71,191.07 376.52,192.17 377.29,193.28 378.03,194.4 378.74,195.53 379.41,196.67 380.05,197.82 380.65,198.98 381.22,200.15 381.76,201.34 382.25,202.53 382.72,203.74 383.15,204.96 383.54,206.19 383.91,207.43 384.23,208.69 384.52,209.95 384.78,211.23 385.01,212.53 385.2,213.83 385.35,215.15 385.48,216.48 385.57,217.82 385.62,219.17 385.64,220.54 385.63,221.93 385.58,223.32 385.5,224.73 388.5,224.87 388.52,223.39 388.5,221.92 388.44,220.47 388.35,219.03 388.22,217.61 388.06,216.2 387.86,214.81 387.62,213.44 387.35,212.08 387.04,210.74 386.69,209.42 386.31,208.11 385.89,206.82 385.44,205.55 384.95,204.29 384.43,203.05 383.87,201.83 383.27,200.62 382.64,199.43 381.97,198.26 381.27,197.11 380.53,195.98 379.75,194.86 378.94,193.76 378.1,192.68 377.21,191.62 376.29,190.58 375.34,189.56 374.34,188.57 373.27,187.63" fill="url(#ga4)"/>
<polygon points="383.4,224.94 390.6,224.66 387.5,238.1" fill="#999"/>
<text transform="translate(342.6,212.6) rotate(73)" font-size="11.3" text-anchor="middle" dy="0.35em" fill="#231f20" >cooling</text>
<text transform="translate(372.2,211.9) rotate(68.5)" font-size="11.3" text-anchor="middle" dy="0.35em" fill="#231f20" >heating</text>
<text x="465.2" y="15.9" font-size="21" text-anchor="start" fill="#000" font-weight="bold">d</text>
<rect x="495" y="21" width="40" height="21" fill="#85a98a" filter="url(#tex2)"/>
<rect x="564" y="21" width="40" height="21" fill="#b6875a" filter="url(#tex2)"/>
<rect x="631" y="22" width="40" height="21" fill="#c6a09e"/>
<rect x="495" y="75" width="40" height="21" fill="#b9a65a" filter="url(#tex2)"/>
<rect x="564" y="74" width="40" height="21" fill="#ad4330" filter="url(#tex2)"/>
<rect x="632" y="74" width="40" height="21" fill="#c0919a"/>
<rect x="651.3" y="90.4" width="20.4" height="2" fill="#fff"/>
<text x="486.8" y="61.1" font-size="9.9" text-anchor="start" fill="#333" >13°C</text>
<text x="523.4" y="61.1" font-size="9.9" text-anchor="start" fill="#333" >35°C</text>
<rect x="512.3" y="57" width="1.8" height="8.7" fill="#9a9a9a"/><polygon points="510.8,58.4 515.6,58.4 513.2,50.5" fill="#9a9a9a"/>
<rect x="517" y="50.3" width="1.8" height="8" fill="#9a9a9a"/><polygon points="515.6,57.6 520.2,57.6 517.9,64.9" fill="#9a9a9a"/>
<text x="557.9" y="61.1" font-size="9.9" text-anchor="start" fill="#333" >17°C</text>
<text x="592.3" y="61.1" font-size="9.9" text-anchor="start" fill="#333" >43°C</text>
<rect x="582.3" y="57" width="1.8" height="8.7" fill="#9a9a9a"/><polygon points="580.8,58.4 585.6,58.4 583.2,50.5" fill="#9a9a9a"/>
<rect x="587.1" y="50.3" width="1.8" height="8" fill="#9a9a9a"/><polygon points="585.7,57.6 590.3,57.6 588,64.9" fill="#9a9a9a"/>
<text x="623.8" y="61.1" font-size="9.9" text-anchor="start" fill="#333" >19°C</text>
<text x="658.2" y="61.1" font-size="9.9" text-anchor="start" fill="#333" >45°C</text>
<rect x="649.4" y="57" width="1.8" height="8.7" fill="#9a9a9a"/><polygon points="647.9,58.4 652.7,58.4 650.3,50.5" fill="#9a9a9a"/>
<rect x="653.6" y="50.3" width="1.8" height="8" fill="#9a9a9a"/><polygon points="652.2,57.6 656.8,57.6 654.5,64.9" fill="#9a9a9a"/>
<g fill="#3a88c6"><text transform="translate(473.3,114.9) scale(0.9,1)" font-size="8.2">PDMS</text><text transform="translate(493.8,108.3) scale(0.9,1)" font-size="6.8">150</text><text transform="translate(494.6,119) scale(0.9,1)" font-size="6.8">68</text><text transform="translate(500.8,114.9) scale(0.9,1)" font-size="8.2">-42%PCL</text><text transform="translate(531.3,108.3) scale(0.9,1)" font-size="6.8">248</text><text transform="translate(532.3,119) scale(0.9,1)" font-size="6.8">22</text></g>
<g fill="#22a567"><text transform="translate(544.8,114.9) scale(0.9,1)" font-size="8.2">PDMS</text><text transform="translate(565.3,108.3) scale(0.9,1)" font-size="6.8">150</text><text transform="translate(566.1,119) scale(0.9,1)" font-size="6.8">68</text><text transform="translate(572.3,114.9) scale(0.9,1)" font-size="8.2">-42%PCL</text><text transform="translate(602.8,108.3) scale(0.9,1)" font-size="6.8">190</text><text transform="translate(603.8,119) scale(0.9,1)" font-size="6.8">29</text></g>
<g fill="#c2689e"><text transform="translate(616.6,114.9) scale(0.9,1)" font-size="8.2">PDMS</text><text transform="translate(637.1,108.3) scale(0.9,1)" font-size="6.8">150</text><text transform="translate(637.9,119) scale(0.9,1)" font-size="6.8">68</text><text transform="translate(644.1,114.9) scale(0.9,1)" font-size="8.2">-42%PCL</text><text transform="translate(674.6,108.3) scale(0.9,1)" font-size="6.8">154</text><text transform="translate(675.6,119) scale(0.9,1)" font-size="6.8">38</text></g>
<text x="465.4" y="145.9" font-size="22" text-anchor="start" fill="#000" font-weight="bold">e</text>
<rect x="497.2" y="145.6" width="173.2" height="257.79999999999995" fill="none" stroke="#4a4a4a" stroke-width="1.2"/>
<line x1="497.2" y1="274.3" x2="670.4" y2="274.3" stroke="#4a4a4a" stroke-width="1.2"/>
<line x1="497.2" y1="262.7" x2="499.2" y2="262.7" stroke="#4a4a4a" stroke-width="1"/>
<text x="495" y="266.9" font-size="10.5" text-anchor="end" fill="#231f20" >0</text>
<line x1="497.2" y1="239.32" x2="499.2" y2="239.32" stroke="#4a4a4a" stroke-width="1"/>
<text x="495" y="243.52" font-size="10.5" text-anchor="end" fill="#231f20" >2</text>
<line x1="497.2" y1="215.94" x2="499.2" y2="215.94" stroke="#4a4a4a" stroke-width="1"/>
<text x="495" y="220.14" font-size="10.5" text-anchor="end" fill="#231f20" >4</text>
<line x1="497.2" y1="192.56" x2="499.2" y2="192.56" stroke="#4a4a4a" stroke-width="1"/>
<text x="495" y="196.76" font-size="10.5" text-anchor="end" fill="#231f20" >6</text>
<line x1="497.2" y1="169.18" x2="499.2" y2="169.18" stroke="#4a4a4a" stroke-width="1"/>
<text x="495" y="173.38" font-size="10.5" text-anchor="end" fill="#231f20" >8</text>
<text x="495" y="150" font-size="10.5" text-anchor="end" fill="#231f20" >10</text>
<line x1="497.2" y1="392.1" x2="499.2" y2="392.1" stroke="#4a4a4a" stroke-width="1"/>
<text x="495" y="396.2" font-size="10.5" text-anchor="end" fill="#231f20" >0</text>
<line x1="497.2" y1="368.5" x2="499.2" y2="368.5" stroke="#4a4a4a" stroke-width="1"/>
<text x="495" y="372.6" font-size="10.5" text-anchor="end" fill="#231f20" >2</text>
<line x1="497.2" y1="344.9" x2="499.2" y2="344.9" stroke="#4a4a4a" stroke-width="1"/>
<text x="495" y="349" font-size="10.5" text-anchor="end" fill="#231f20" >4</text>
<line x1="497.2" y1="321.3" x2="499.2" y2="321.3" stroke="#4a4a4a" stroke-width="1"/>
<text x="495" y="325.4" font-size="10.5" text-anchor="end" fill="#231f20" >6</text>
<line x1="497.2" y1="297.7" x2="499.2" y2="297.7" stroke="#4a4a4a" stroke-width="1"/>
<text x="495" y="301.8" font-size="10.5" text-anchor="end" fill="#231f20" >8</text>
<line x1="526.07" y1="274.3" x2="526.07" y2="272.3" stroke="#4a4a4a" stroke-width="1"/>
<line x1="526.07" y1="403.4" x2="526.07" y2="401.4" stroke="#4a4a4a" stroke-width="1"/>
<line x1="554.93" y1="274.3" x2="554.93" y2="272.3" stroke="#4a4a4a" stroke-width="1"/>
<line x1="554.93" y1="403.4" x2="554.93" y2="401.4" stroke="#4a4a4a" stroke-width="1"/>
<line x1="583.8" y1="274.3" x2="583.8" y2="272.3" stroke="#4a4a4a" stroke-width="1"/>
<line x1="583.8" y1="403.4" x2="583.8" y2="401.4" stroke="#4a4a4a" stroke-width="1"/>
<line x1="612.67" y1="274.3" x2="612.67" y2="272.3" stroke="#4a4a4a" stroke-width="1"/>
<line x1="612.67" y1="403.4" x2="612.67" y2="401.4" stroke="#4a4a4a" stroke-width="1"/>
<line x1="641.53" y1="274.3" x2="641.53" y2="272.3" stroke="#4a4a4a" stroke-width="1"/>
<line x1="641.53" y1="403.4" x2="641.53" y2="401.4" stroke="#4a4a4a" stroke-width="1"/>
<text x="497.2" y="413.4" font-size="10.5" text-anchor="middle" fill="#231f20" >0</text>
<text x="526.07" y="413.4" font-size="10.5" text-anchor="middle" fill="#231f20" >10</text>
<text x="554.93" y="413.4" font-size="10.5" text-anchor="middle" fill="#231f20" >20</text>
<text x="583.8" y="413.4" font-size="10.5" text-anchor="middle" fill="#231f20" >30</text>
<text x="612.67" y="413.4" font-size="10.5" text-anchor="middle" fill="#231f20" >40</text>
<text x="641.53" y="413.4" font-size="10.5" text-anchor="middle" fill="#231f20" >50</text>
<text x="670.4" y="413.4" font-size="10.5" text-anchor="middle" fill="#231f20" >60</text>
<text x="584" y="425" font-size="11" text-anchor="middle" fill="#231f20" >Temperature (°C)</text>
<text transform="translate(475.6,209.8) rotate(-90)" font-size="12" text-anchor="middle" dy="0.35em" fill="#231f20" >Δ<tspan font-style="italic">λ</tspan>/<tspan font-style="italic">λ</tspan><tspan font-size="8" font-style="italic" dy="2">o</tspan><tspan dy="-2"> (%)</tspan></text>
<text transform="translate(475.6,339.3) rotate(-90)" font-size="12" text-anchor="middle" dy="0.35em" fill="#231f20" >Δ<tspan font-style="italic">λ</tspan>/<tspan font-style="italic">λ</tspan><tspan font-size="8" font-style="italic" dy="2">o</tspan><tspan dy="-2"> (%)</tspan></text>
<polyline points="497.6,174.7 511.7,173.6 522.8,175.9 528.4,174.7 534.3,193.9 540.5,202.9 546.4,214.5 552.1,222.8 558,224.9 563.6,231.1 569.3,231.1 583.7,232.4 597.7,246.1 612.6,245 627.1,248.5 641.5,251.7 656,261 670.5,262.7" fill="none" stroke="#2b7cc0" stroke-width="1.4" stroke-linejoin="round"/>
<circle cx="497.6" cy="174.7" r="1.9" fill="#2b7cc0"/>
<circle cx="511.7" cy="173.6" r="1.9" fill="#2b7cc0"/>
<circle cx="522.8" cy="175.9" r="1.9" fill="#2b7cc0"/>
<circle cx="528.4" cy="174.7" r="1.9" fill="#2b7cc0"/>
<circle cx="534.3" cy="193.9" r="1.9" fill="#2b7cc0"/>
<circle cx="540.5" cy="202.9" r="1.9" fill="#2b7cc0"/>
<circle cx="546.4" cy="214.5" r="1.9" fill="#2b7cc0"/>
<circle cx="552.1" cy="222.8" r="1.9" fill="#2b7cc0"/>
<circle cx="558" cy="224.9" r="1.9" fill="#2b7cc0"/>
<circle cx="563.6" cy="231.1" r="1.9" fill="#2b7cc0"/>
<circle cx="569.3" cy="231.1" r="1.9" fill="#2b7cc0"/>
<circle cx="583.7" cy="232.4" r="1.9" fill="#2b7cc0"/>
<circle cx="597.7" cy="246.1" r="1.9" fill="#2b7cc0"/>
<circle cx="612.6" cy="245" r="1.9" fill="#2b7cc0"/>
<circle cx="627.1" cy="248.5" r="1.9" fill="#2b7cc0"/>
<circle cx="641.5" cy="251.7" r="1.9" fill="#2b7cc0"/>
<circle cx="656" cy="261" r="1.9" fill="#2b7cc0"/>
<circle cx="670.5" cy="262.7" r="1.9" fill="#2b7cc0"/>
<polyline points="497.6,199.9 511.7,199.1 525.9,199.1 534.3,199.9 540.5,203.2 546.4,217.9 552.2,228.5 557.8,236 563.5,238.7 569,240.5 583.7,240.3 598.5,241.2 612.6,251.3 627.1,257.8 641.5,258.3 656,261.3 670.5,262.7" fill="none" stroke="#21a35c" stroke-width="1.4" stroke-linejoin="round"/>
<circle cx="497.6" cy="199.9" r="1.9" fill="#21a35c"/>
<circle cx="511.7" cy="199.1" r="1.9" fill="#21a35c"/>
<circle cx="525.9" cy="199.1" r="1.9" fill="#21a35c"/>
<circle cx="534.3" cy="199.9" r="1.9" fill="#21a35c"/>
<circle cx="540.5" cy="203.2" r="1.9" fill="#21a35c"/>
<circle cx="546.4" cy="217.9" r="1.9" fill="#21a35c"/>
<circle cx="552.2" cy="228.5" r="1.9" fill="#21a35c"/>
<circle cx="557.8" cy="236" r="1.9" fill="#21a35c"/>
<circle cx="563.5" cy="238.7" r="1.9" fill="#21a35c"/>
<circle cx="569" cy="240.5" r="1.9" fill="#21a35c"/>
<circle cx="583.7" cy="240.3" r="1.9" fill="#21a35c"/>
<circle cx="598.5" cy="241.2" r="1.9" fill="#21a35c"/>
<circle cx="612.6" cy="251.3" r="1.9" fill="#21a35c"/>
<circle cx="627.1" cy="257.8" r="1.9" fill="#21a35c"/>
<circle cx="641.5" cy="258.3" r="1.9" fill="#21a35c"/>
<circle cx="656" cy="261.3" r="1.9" fill="#21a35c"/>
<circle cx="670.5" cy="262.7" r="1.9" fill="#21a35c"/>
<polyline points="497.6,206.8 511.7,208.1 522.8,208.9 528.4,208.1 534.3,206.8 540.5,206.8 546.4,206.3 549,216.8 552,243.4 557.8,243.6 563.5,243.9 569,244.8 578.2,245.4 583.7,246.1 598.5,246.4 612.6,247.3 627.1,249.6 641.5,261.3 656,262.2 670.5,262.7" fill="none" stroke="#c34f96" stroke-width="1.4" stroke-linejoin="round"/>
<circle cx="497.6" cy="206.8" r="1.9" fill="#c34f96"/>
<circle cx="511.7" cy="208.1" r="1.9" fill="#c34f96"/>
<circle cx="522.8" cy="208.9" r="1.9" fill="#c34f96"/>
<circle cx="528.4" cy="208.1" r="1.9" fill="#c34f96"/>
<circle cx="534.3" cy="206.8" r="1.9" fill="#c34f96"/>
<circle cx="540.5" cy="206.8" r="1.9" fill="#c34f96"/>
<circle cx="546.4" cy="206.3" r="1.9" fill="#c34f96"/>
<circle cx="549" cy="216.8" r="1.9" fill="#c34f96"/>
<circle cx="552" cy="243.4" r="1.9" fill="#c34f96"/>
<circle cx="557.8" cy="243.6" r="1.9" fill="#c34f96"/>
<circle cx="563.5" cy="243.9" r="1.9" fill="#c34f96"/>
<circle cx="569" cy="244.8" r="1.9" fill="#c34f96"/>
<circle cx="578.2" cy="245.4" r="1.9" fill="#c34f96"/>
<circle cx="583.7" cy="246.1" r="1.9" fill="#c34f96"/>
<circle cx="598.5" cy="246.4" r="1.9" fill="#c34f96"/>
<circle cx="612.6" cy="247.3" r="1.9" fill="#c34f96"/>
<circle cx="627.1" cy="249.6" r="1.9" fill="#c34f96"/>
<circle cx="641.5" cy="261.3" r="1.9" fill="#c34f96"/>
<circle cx="656" cy="262.2" r="1.9" fill="#c34f96"/>
<circle cx="670.5" cy="262.7" r="1.9" fill="#c34f96"/>
<g fill="#2b7cc0"><text transform="translate(529.4,169) scale(1,1)" font-size="8.6">PDMS</text><text transform="translate(552.3,161.7) scale(1,1)" font-size="6.7">150</text><text transform="translate(553.4,173.6) scale(1,1)" font-size="6.7">68</text><text transform="translate(559.2,169) scale(1,1)" font-size="8.6">-42%PCL</text><text transform="translate(594.7,161.7) scale(1,1)" font-size="6.7">248</text><text transform="translate(596.9,173.6) scale(1,1)" font-size="6.7">22</text></g>
<g fill="#21a35c"><text transform="translate(563.3,200.4) scale(1,1)" font-size="8.6">PDMS</text><text transform="translate(586.2,193.1) scale(1,1)" font-size="6.7">150</text><text transform="translate(587.3,205) scale(1,1)" font-size="6.7">68</text><text transform="translate(593.1,200.4) scale(1,1)" font-size="8.6">-42%PCL</text><text transform="translate(628.6,193.1) scale(1,1)" font-size="6.7">190</text><text transform="translate(630.8,205) scale(1,1)" font-size="6.7">29</text></g>
<g fill="#c34f96"><text transform="translate(584.6,229.2) scale(1,1)" font-size="8.6">PDMS</text><text transform="translate(607.5,221.9) scale(1,1)" font-size="6.7">150</text><text transform="translate(608.6,233.8) scale(1,1)" font-size="6.7">68</text><text transform="translate(615.4,229.2) scale(1,1)" font-size="8.6">-42%PCL</text><text transform="translate(650.9,221.9) scale(1,1)" font-size="6.7">154</text><text transform="translate(653.1,233.8) scale(1,1)" font-size="6.7">38</text></g>
<polygon points="568.46,261.12 567.32,260.13 566.16,259.18 565.02,258.23 563.89,257.29 562.77,256.34 561.66,255.4 560.57,254.45 559.5,253.49 558.44,252.54 557.39,251.58 556.36,250.62 555.35,249.65 554.35,248.68 553.36,247.71 552.39,246.73 551.44,245.75 550.5,244.77 549.58,243.78 548.67,242.79 547.78,241.79 546.9,240.79 546.04,239.78 545.19,238.78 544.36,237.76 543.55,236.75 542.75,235.73 541.96,234.7 541.2,233.67 540.44,232.64 539.7,231.61 537.3,233.39 538.11,234.42 538.93,235.44 539.77,236.45 540.63,237.46 541.5,238.46 542.39,239.45 543.29,240.44 544.21,241.42 545.14,242.4 546.09,243.37 547.05,244.33 548.03,245.29 549.03,246.24 550.03,247.18 551.06,248.12 552.1,249.05 553.15,249.98 554.22,250.89 555.31,251.81 556.41,252.71 557.53,253.61 558.66,254.5 559.81,255.38 560.97,256.26 562.15,257.13 563.35,257.99 564.56,258.84 565.79,259.68 567.05,260.5 568.34,261.28" fill="url(#ga5)"/>
<polygon points="542.32,230.63 534.68,234.37 533.3,221.9" fill="#999"/>
<text transform="translate(541,251.2) rotate(44)" font-size="11" text-anchor="middle" dy="0.35em" fill="#231f20" >cooling</text>
<polyline points="496.7,328 511.5,329.8 526.2,329.1 540.6,332.8 554.7,333.9 569.4,328.3 583.5,331.6 598.2,334.6 603.8,331.6 609.6,329.1 615.6,331.3 621.3,353.7 626.7,385.6 641.4,387 656.2,388.9 670.5,391.8" fill="none" stroke="#21a35c" stroke-width="1.4" stroke-linejoin="round"/>
<circle cx="496.7" cy="328" r="1.9" fill="#21a35c"/>
<circle cx="511.5" cy="329.8" r="1.9" fill="#21a35c"/>
<circle cx="526.2" cy="329.1" r="1.9" fill="#21a35c"/>
<circle cx="540.6" cy="332.8" r="1.9" fill="#21a35c"/>
<circle cx="554.7" cy="333.9" r="1.9" fill="#21a35c"/>
<circle cx="569.4" cy="328.3" r="1.9" fill="#21a35c"/>
<circle cx="583.5" cy="331.6" r="1.9" fill="#21a35c"/>
<circle cx="598.2" cy="334.6" r="1.9" fill="#21a35c"/>
<circle cx="603.8" cy="331.6" r="1.9" fill="#21a35c"/>
<circle cx="609.6" cy="329.1" r="1.9" fill="#21a35c"/>
<circle cx="615.6" cy="331.3" r="1.9" fill="#21a35c"/>
<circle cx="621.3" cy="353.7" r="1.9" fill="#21a35c"/>
<circle cx="626.7" cy="385.6" r="1.9" fill="#21a35c"/>
<circle cx="641.4" cy="387" r="1.9" fill="#21a35c"/>
<circle cx="656.2" cy="388.9" r="1.9" fill="#21a35c"/>
<circle cx="670.5" cy="391.8" r="1.9" fill="#21a35c"/>
<polyline points="496.7,324.6 511.5,328.3 526.2,330.2 540.6,327.2 554.7,347.7 569.1,345.1 583.4,353.7 598.1,354.5 604.2,349.3 609.6,346.9 615.3,354.5 621.3,353.7 627.2,353.4 632.5,388.1 641.4,388.9 656.2,391.8 670.5,381.5" fill="none" stroke="#c34f96" stroke-width="1.4" stroke-linejoin="round"/>
<circle cx="496.7" cy="324.6" r="1.9" fill="#c34f96"/>
<circle cx="511.5" cy="328.3" r="1.9" fill="#c34f96"/>
<circle cx="526.2" cy="330.2" r="1.9" fill="#c34f96"/>
<circle cx="540.6" cy="327.2" r="1.9" fill="#c34f96"/>
<circle cx="554.7" cy="347.7" r="1.9" fill="#c34f96"/>
<circle cx="569.1" cy="345.1" r="1.9" fill="#c34f96"/>
<circle cx="583.4" cy="353.7" r="1.9" fill="#c34f96"/>
<circle cx="598.1" cy="354.5" r="1.9" fill="#c34f96"/>
<circle cx="604.2" cy="349.3" r="1.9" fill="#c34f96"/>
<circle cx="609.6" cy="346.9" r="1.9" fill="#c34f96"/>
<circle cx="615.3" cy="354.5" r="1.9" fill="#c34f96"/>
<circle cx="621.3" cy="353.7" r="1.9" fill="#c34f96"/>
<circle cx="627.2" cy="353.4" r="1.9" fill="#c34f96"/>
<circle cx="632.5" cy="388.1" r="1.9" fill="#c34f96"/>
<circle cx="641.4" cy="388.9" r="1.9" fill="#c34f96"/>
<circle cx="656.2" cy="391.8" r="1.9" fill="#c34f96"/>
<circle cx="670.5" cy="381.5" r="1.9" fill="#c34f96"/>
<polyline points="496.7,294 511.5,294.4 526.2,295.5 540.6,297 554.7,293.6 569.4,295.1 583.5,295.5 598.2,297.3 600.9,330.9 603.8,369.8 610,376.6 615.6,386.8 626.6,388.9 641.4,390 656.2,390 670.5,391.8" fill="none" stroke="#2b7cc0" stroke-width="1.4" stroke-linejoin="round"/>
<circle cx="496.7" cy="294" r="1.9" fill="#2b7cc0"/>
<circle cx="511.5" cy="294.4" r="1.9" fill="#2b7cc0"/>
<circle cx="526.2" cy="295.5" r="1.9" fill="#2b7cc0"/>
<circle cx="540.6" cy="297" r="1.9" fill="#2b7cc0"/>
<circle cx="554.7" cy="293.6" r="1.9" fill="#2b7cc0"/>
<circle cx="569.4" cy="295.1" r="1.9" fill="#2b7cc0"/>
<circle cx="583.5" cy="295.5" r="1.9" fill="#2b7cc0"/>
<circle cx="598.2" cy="297.3" r="1.9" fill="#2b7cc0"/>
<circle cx="600.9" cy="330.9" r="1.9" fill="#2b7cc0"/>
<circle cx="603.8" cy="369.8" r="1.9" fill="#2b7cc0"/>
<circle cx="610" cy="376.6" r="1.9" fill="#2b7cc0"/>
<circle cx="615.6" cy="386.8" r="1.9" fill="#2b7cc0"/>
<circle cx="626.6" cy="388.9" r="1.9" fill="#2b7cc0"/>
<circle cx="641.4" cy="390" r="1.9" fill="#2b7cc0"/>
<circle cx="656.2" cy="390" r="1.9" fill="#2b7cc0"/>
<circle cx="670.5" cy="391.8" r="1.9" fill="#2b7cc0"/>
<polygon points="551.29,353.5 552.97,353.81 554.63,354.09 556.26,354.36 557.86,354.65 559.43,354.95 560.97,355.26 562.47,355.58 563.95,355.92 565.4,356.27 566.82,356.63 568.21,357.01 569.57,357.39 570.9,357.8 572.19,358.21 573.46,358.64 574.7,359.09 575.9,359.54 577.08,360.01 578.22,360.5 579.34,361 580.42,361.51 581.48,362.03 582.5,362.57 583.49,363.12 584.45,363.69 585.38,364.26 586.28,364.85 587.15,365.46 587.99,366.07 588.8,366.7 590.6,364.3 589.68,363.68 588.74,363.07 587.78,362.48 586.78,361.91 585.76,361.36 584.71,360.83 583.63,360.31 582.53,359.82 581.4,359.33 580.24,358.87 579.05,358.42 577.84,357.99 576.6,357.58 575.33,357.19 574.04,356.81 572.72,356.45 571.37,356.1 569.99,355.77 568.59,355.46 567.16,355.17 565.7,354.89 564.21,354.63 562.7,354.39 561.15,354.17 559.58,353.97 557.99,353.78 556.36,353.61 554.71,353.47 553.02,353.35 551.31,353.3" fill="url(#ga6)"/>
<polygon points="586.53,368.33 592.87,362.67 599.1,376" fill="#999"/>
<text transform="translate(571.6,371.2) rotate(26.6)" font-size="11" text-anchor="middle" dy="0.35em" fill="#231f20" >heating</text>
</svg>
</body></html>
